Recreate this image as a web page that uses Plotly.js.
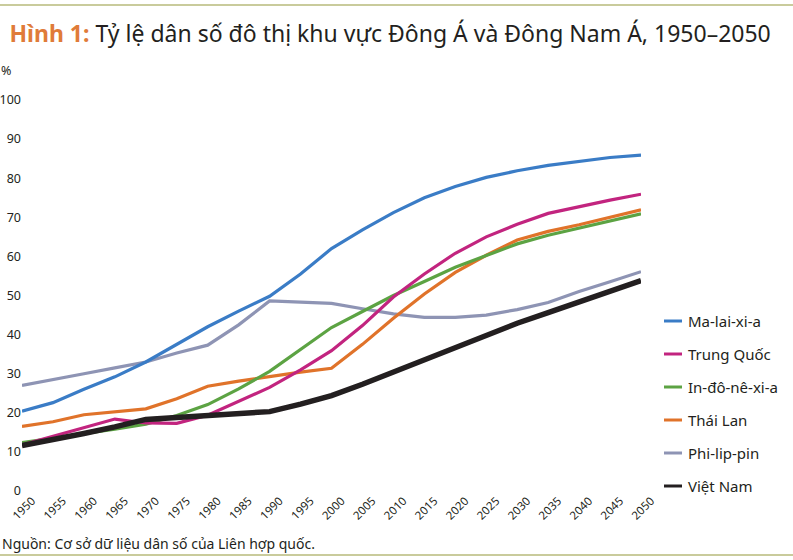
<!DOCTYPE html>
<html>
<head>
<meta charset="utf-8">
<script src="https://cdn.plot.ly/plotly-3.0.1.min.js"></script>
<style>html,body{margin:0;padding:0;background:#fff;}#chart{width:793px;height:560px;}</style>
</head>
<body>
<div id="chart"></div>
<script>
const years = [1950,1955,1960,1965,1970,1975,1980,1985,1990,1995,2000,2005,2010,2015,2020,2025,2030,2035,2040,2045,2050];
const seriesNames = ["Ma-lai-xi-a","Trung Quốc","In-đô-nê-xi-a","Thái Lan","Phi-lip-pin","Việt Nam"];
const malaysia   = [20.4,22.6,26.0,29.2,33.0,37.5,42.0,46.0,49.8,55.5,62.0,66.8,71.2,75.0,77.9,80.2,81.9,83.3,84.4,85.3,85.9];
const china      = [11.8,14.0,16.2,18.4,17.4,17.3,19.4,23.0,26.5,31.0,35.9,42.3,49.6,55.5,60.8,65.0,68.2,71.0,72.8,74.4,75.9];
const indonesia  = [12.4,13.5,14.6,15.8,17.1,19.3,22.1,26.1,30.6,36.1,41.8,45.9,50.0,53.6,57.2,60.2,63.2,65.4,67.3,69.2,70.9];
const thailand   = [16.5,17.7,19.5,20.2,21.0,23.6,26.8,28.1,29.3,30.4,31.4,37.5,44.2,50.4,55.9,60.3,64.2,66.4,68.1,69.9,71.9];
const philippines= [27.0,28.6,30.0,31.5,33.0,35.3,37.3,42.5,48.6,48.3,48.0,46.6,45.3,44.4,44.4,45.0,46.4,48.2,51.0,53.5,56.1];
const vietnam    = [11.6,13.0,14.7,16.4,18.3,18.8,19.3,19.6,20.3,22.2,24.4,27.3,30.4,33.6,36.8,40.0,42.9,45.6,48.4,51.2,53.8];
const yTicks = [0,10,20,30,40,50,60,70,80,90,100];
const xTicks = years;

const allValues = [malaysia, china, indonesia, thailand, philippines, vietnam];
const colors = ["#3A7CC6","#C2247F","#5CA343","#E0732A","#8E94B4","#231F20"];
const widths = [3.2,3.2,3.2,3.2,3.2,5.5];

const font = "'Noto Sans', 'Open Sans', sans-serif";
const traces = allValues.map((v,i)=>({
  x: years, y: v, type:'scatter', mode:'lines', name: seriesNames[i],
  line:{color:colors[i], width:widths[i]}, showlegend:false, hoverinfo:'skip'
}));
// draw Vietnam on top
const order = [4,3,2,1,0,5];
const data = order.map(i=>traces[i]);

// pixel helpers for decorative placement (plot area: x 22..641, y 100..491)
const px = x => (x-22)/619;
const py = y => (491-y)/391;

const shapes = [
  {type:'line', xref:'paper', yref:'paper', x0:px(0), x1:px(793), y0:py(5), y1:py(5), line:{color:'#C9CB9C', width:2}},
  {type:'line', xref:'paper', yref:'paper', x0:px(0), x1:px(793), y0:py(555), y1:py(555), line:{color:'#C9CB9C', width:2}}
];
const annotations = [
  {xref:'paper', yref:'paper', x:px(-1), y:py(70), xanchor:'left', yanchor:'middle', text:'%', showarrow:false, font:{family:font, size:12.5, color:'#231F20'}},
  {xref:'paper', yref:'paper', x:px(0), y:py(543), xanchor:'left', yanchor:'middle', text:'Nguồn: Cơ sở dữ liệu dân số của Liên hợp quốc.', showarrow:false, font:{family:font, size:14, color:'#231F20'}}
];
seriesNames.forEach((n,i)=>{
  const yc = 321 + i*33;
  shapes.push({type:'line', xref:'paper', yref:'paper', x0:px(664), x1:px(682), y0:py(yc), y1:py(yc), line:{color:colors[i], width:3}});
  annotations.push({xref:'paper', yref:'paper', x:px(686), y:py(yc), xanchor:'left', yanchor:'middle', text:n, showarrow:false, font:{family:font, size:15, color:'#231F20'}});
});

const layout = {
  width:793, height:560,
  margin:{l:22, r:152, t:100, b:69},
  paper_bgcolor:'#fff', plot_bgcolor:'#fff',
  font:{family:font, color:'#231F20'},
  title:{
    text:'<span style="color:#E07B39"><b>Hình 1:</b></span> Tỷ lệ dân số đô thị khu vực Đông Á và Đông Nam Á, 1950–2050',
    x:0.012, xanchor:'left', xref:'container', y:0.94, yanchor:'middle', yref:'container',
    font:{family:font, size:23, color:'#231F20'}
  },
  xaxis:{range:[1950,2050], tickvals:xTicks, ticktext:xTicks.map(String), tickangle:-45,
         ticklabeloverflow:'allow', ticklabelshift:10,
         showgrid:false, zeroline:false, showline:false, ticks:'', tickfont:{size:11.5, color:'#231F20'}, fixedrange:true},
  yaxis:{range:[0,100], tickvals:yTicks, showgrid:false, zeroline:false, showline:false, ticks:'',
         tickfont:{size:12.5, color:'#231F20'}, fixedrange:true},
  shapes, annotations
};
Plotly.newPlot('chart', data, layout, {displayModeBar:false, staticPlot:true});
</script>
</body>
</html>
